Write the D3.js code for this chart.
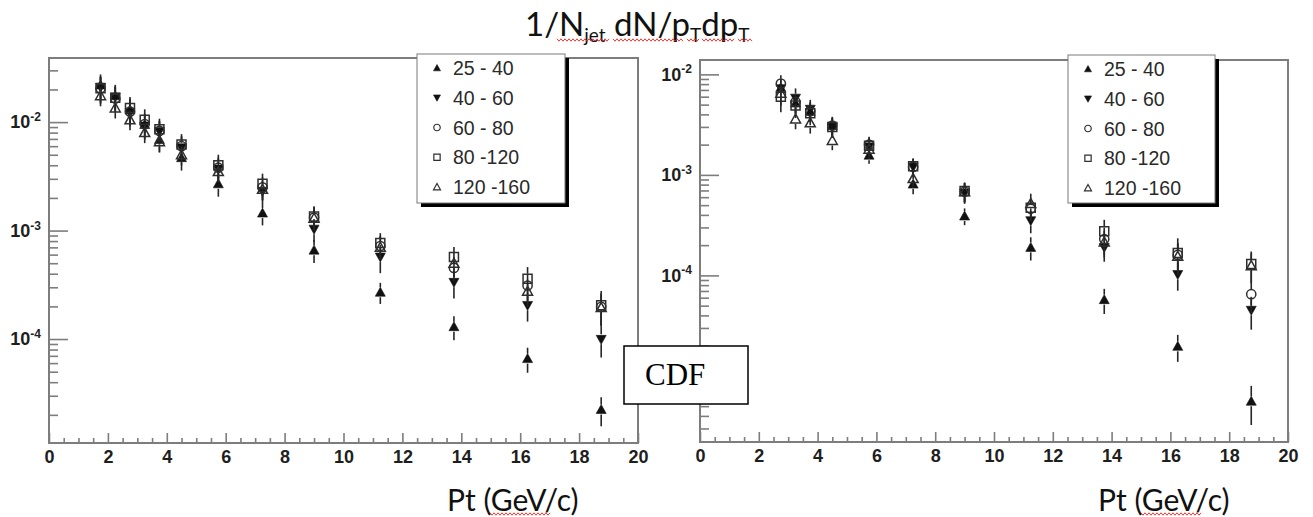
<!DOCTYPE html>
<html>
<head>
<meta charset="utf-8">
<script src="https://cdn.jsdelivr.net/npm/d3@7"></script>
<style>
  body { margin: 0; background: #fff; }
  svg { display: block; }
  .ticklab { font-family: 'Liberation Sans', Arial, sans-serif; font-weight: bold; font-size: 18px; fill: #1e1e1e; }
</style>
</head>
<body>
<svg id="chart" width="1313" height="517"></svg>
<script>
// ---- data: jet-pt bins, measured pT points and relative errors ----
const jetBins = ["25 - 40", "40 - 60", "60 - 80", "80 -120", "120 -160"];
const markerKinds = ["triUp", "triDown", "circle", "square", "triOpen"];

const xTicks = [0, 2, 4, 6, 8, 10, 12, 14, 16, 18, 20];

// left panel
const ptLeft = [1.75, 2.25, 2.75, 3.25, 3.75, 4.5, 5.75, 7.25, 9, 11.25, 13.75, 16.25, 18.75];
const left_25_40  = [0.022, 0.0175, 0.013, 0.0095, 0.0069, 0.0047, 0.0027, 0.00145, 0.00066, 0.00027, 0.00013, 0.000066, 0.0000224];
const left_40_60  = [0.021, 0.017, 0.0122, 0.0092, 0.0082, 0.0058, 0.0037, 0.0023, 0.00103, 0.00057, 0.000333, 0.000204, 0.0000993];
const left_60_80  = [0.0205, 0.0165, 0.0125, 0.0096, 0.0083, 0.006, 0.0038, 0.0025, 0.00132, 0.00072, 0.000452, 0.000311, 0.000198];
const left_80_120 = [0.0205, 0.0168, 0.0135, 0.0105, 0.0086, 0.0062, 0.004, 0.0027, 0.00135, 0.00077, 0.00057, 0.00036, 0.000205];
const left_120_160 = [0.0175, 0.0135, 0.0105, 0.008, 0.0066, 0.005, 0.0035, 0.0024, 0.0013, 0.0007, 0.0005, 0.000276, 0.000195];
const leftErr_25_40  = [0.25, 0.26, 0.26, 0.25, 0.24, 0.24, 0.24, 0.23, 0.24, 0.22, 0.25, 0.26, 0.30];
const leftErr_40_60  = [0.25, 0.25, 0.25, 0.25, 0.24, 0.24, 0.23, 0.23, 0.24, 0.29, 0.29, 0.29, 0.32];
const leftErr_60_80  = [0.26, 0.26, 0.25, 0.25, 0.24, 0.24, 0.24, 0.24, 0.24, 0.24, 0.25, 0.28, 0.33];
const leftErr_80_120 = [0.28, 0.27, 0.26, 0.25, 0.25, 0.25, 0.25, 0.24, 0.24, 0.23, 0.24, 0.28, 0.35];
const leftErr_120_160 = [0.20, 0.20, 0.20, 0.20, 0.20, 0.20, 0.20, 0.21, 0.22, 0.24, 0.25, 0.28, 0.33];
const yDomainLeft = [1.1e-5, 0.039];
const yLabelsLeft = [-2, -3, -4];

// right panel
const ptRight = [2.75, 3.25, 3.75, 4.5, 5.75, 7.25, 9, 11.25, 13.75, 16.25, 18.75];
const right_25_40  = [0.0074, 0.0052, 0.0043, 0.0031, 0.00157, 0.00081, 0.00039, 0.00019, 0.0000574, 0.0000197, 0.0000056];
const right_40_60  = [0.0072, 0.0058, 0.0045, 0.003, 0.0019, 0.0012, 0.00066, 0.00035, 0.00019, 0.000102, 0.000045];
const right_60_80  = [0.0081, 0.0053, 0.0043, 0.0031, 0.002, 0.0012, 0.00068, 0.00046, 0.00023, 0.00016, 0.000065];
const right_80_120 = [0.006, 0.0049, 0.0041, 0.003, 0.00195, 0.00122, 0.00069, 0.00047, 0.000275, 0.000167, 0.00013];
const right_120_160 = [0.0065, 0.0036, 0.0033, 0.0022, 0.0018, 0.00092, 0.00068, 0.00052, 0.000215, 0.000155, 0.000125];
const rightErr_25_40  = [0.22, 0.22, 0.22, 0.20, 0.18, 0.21, 0.19, 0.26, 0.28, 0.30, 0.42];
const rightErr_40_60  = [0.25, 0.25, 0.24, 0.22, 0.20, 0.20, 0.22, 0.25, 0.28, 0.31, 0.36];
const rightErr_60_80  = [0.21, 0.22, 0.22, 0.22, 0.20, 0.20, 0.22, 0.25, 0.30, 0.30, 0.35];
const rightErr_80_120 = [0.30, 0.25, 0.24, 0.22, 0.20, 0.20, 0.22, 0.24, 0.30, 0.40, 0.33];
const rightErr_120_160 = [0.25, 0.21, 0.22, 0.20, 0.20, 0.20, 0.22, 0.25, 0.30, 0.35, 0.33];
const yDomainRight = [2.2e-6, 0.0139];
const yLabelsRight = [-2, -3, -4];   // the 10^-5 decade sits under the experiment tag

// ---- layout ----
const svg = d3.select("#chart");
const frameColor = "#7d7d7d";
const inkColor = "#262626";

const panels = [
  {
    left: 49, right: 638, top: 58, bottom: 443,
    yDomain: yDomainLeft, yLabels: yLabelsLeft, pt: ptLeft,
    values: [left_25_40, left_40_60, left_60_80, left_80_120, left_120_160],
    errors: [leftErr_25_40, leftErr_40_60, leftErr_60_80, leftErr_80_120, leftErr_120_160],
    legend: { x: 417, y: 54, w: 148, h: 149 },
    axisLabelX: 447
  },
  {
    left: 700, right: 1288, top: 60, bottom: 442,
    yDomain: yDomainRight, yLabels: yLabelsRight, pt: ptRight,
    values: [right_25_40, right_40_60, right_60_80, right_80_120, right_120_160],
    errors: [rightErr_25_40, rightErr_40_60, rightErr_60_80, rightErr_80_120, rightErr_120_160],
    legend: { x: 1068, y: 55, w: 147, h: 148 },
    axisLabelX: 1098
  }
];

// marker outlines in local coordinates, s = full marker size
function markerPath(kind, s) {
  const h = s / 2;
  switch (kind) {
    case "triUp":
    case "triOpen":
      return `M0,${-h}L${h},${h * 0.8}L${-h},${h * 0.8}Z`;
    case "triDown":
      return `M0,${h}L${h},${-h * 0.8}L${-h},${-h * 0.8}Z`;
    case "square":
      return `M${-h * 0.9},${-h * 0.9}H${h * 0.9}V${h * 0.9}H${-h * 0.9}Z`;
    case "circle":
      return d3.symbol(d3.symbolCircle, Math.PI * h * h * 0.85)();
  }
}
const filled = k => k === "triUp" || k === "triDown";

function drawMarker(g, kind, s, sw) {
  g.append("path")
    .attr("d", markerPath(kind, s))
    .attr("fill", filled(kind) ? "#111" : "none")
    .attr("stroke", filled(kind) ? "#111" : "#2e2e2e")
    .attr("stroke-width", filled(kind) ? 0.6 : sw);
}

function superscriptLabel(sel, exp) {
  sel.text(null);
  sel.append("tspan").text("10");
  sel.append("tspan").attr("dy", "-0.6em").style("font-size", "12px").text(exp);
}

panels.forEach(p => {
  const x = d3.scaleLinear().domain([0, 20]).range([p.left, p.right]);
  const y = d3.scaleLog().domain(p.yDomain).range([p.bottom, p.top]);
  const g = svg.append("g");

  // x axis: major ticks every 2, minor every 0.5, drawn inward
  const xMinor = d3.range(0, 20.01, 0.5).filter(v => v % 2 !== 0);
  g.append("g").attr("transform", `translate(0,${p.bottom})`)
    .call(d3.axisBottom(x).tickValues(xMinor).tickSize(-5).tickFormat(""))
    .call(a => a.select(".domain").remove());
  g.append("g").attr("transform", `translate(0,${p.bottom})`)
    .call(d3.axisBottom(x).tickValues(xTicks).tickSize(-10).tickPadding(7).tickFormat(d3.format("d")))
    .call(a => a.select(".domain").remove())
    .call(a => a.selectAll("text").attr("class", "ticklab"));

  // y axis: decades labelled as powers of ten, minor ticks 2..9
  const lo = Math.floor(Math.log10(p.yDomain[0])), hi = Math.ceil(Math.log10(p.yDomain[1]));
  const decades = d3.range(lo, hi + 1).map(k => Math.pow(10, k))
    .filter(v => v >= p.yDomain[0] && v <= p.yDomain[1]);
  const minors = [];
  d3.range(lo, hi + 1).forEach(k => {
    for (let m = 2; m <= 9; m++) {
      const v = m * Math.pow(10, k);
      if (v >= p.yDomain[0] && v <= p.yDomain[1]) minors.push(v);
    }
  });
  g.append("g").attr("transform", `translate(${p.left},0)`)
    .call(d3.axisLeft(y).tickValues(minors).tickSize(-9).tickFormat(""))
    .call(a => a.select(".domain").remove());
  g.append("g").attr("transform", `translate(${p.left},0)`)
    .call(d3.axisLeft(y).tickValues(decades).tickSize(-19).tickPadding(8).tickFormat(""))
    .call(a => a.select(".domain").remove())
    .call(a => a.selectAll("text").attr("class", "ticklab")
      .each(function (d) {
        const e = Math.round(Math.log10(d));
        if (p.yLabels.includes(e)) superscriptLabel(d3.select(this), String(e));
        else d3.select(this).remove();
      }));

  g.selectAll(".tick line").attr("stroke", frameColor).attr("stroke-width", 1.6);

  // frame
  g.append("rect")
    .attr("x", p.left).attr("y", p.top)
    .attr("width", p.right - p.left).attr("height", p.bottom - p.top)
    .attr("fill", "none").attr("stroke", frameColor).attr("stroke-width", 2);

  // data: error bars leave a gap where the marker sits
  const msize = 10;
  p.values.forEach((vals, si) => {
    const kind = markerKinds[si];
    const errs = p.errors[si];
    const sg = g.append("g");
    vals.forEach((v, i) => {
      const cx = x(p.pt[i]), cy = y(v);
      const yHi = y(v * (1 + errs[i])), yLo = y(v * (1 - errs[i]));
      const gap = msize / 2;
      sg.append("line").attr("x1", cx).attr("x2", cx).attr("y1", yHi).attr("y2", Math.max(yHi, cy - gap))
        .attr("stroke", inkColor).attr("stroke-width", 1.6);
      sg.append("line").attr("x1", cx).attr("x2", cx).attr("y1", Math.min(yLo, cy + gap)).attr("y2", yLo)
        .attr("stroke", inkColor).attr("stroke-width", 1.6);
    });
    vals.forEach((v, i) => {
      const mg = sg.append("g").attr("transform", `translate(${x(p.pt[i])},${y(v)})`);
      drawMarker(mg, kind, msize, 1.5);
    });
  });

  // legend with drop shadow
  const L = p.legend;
  const lg = svg.append("g");
  lg.append("rect").attr("x", L.x + 4).attr("y", L.y + 4).attr("width", L.w).attr("height", L.h).attr("fill", "#000");
  lg.append("rect").attr("x", L.x).attr("y", L.y).attr("width", L.w).attr("height", L.h)
    .attr("fill", "#fff").attr("stroke", "#7a7a7a").attr("stroke-width", 1);
  const rowY = d3.scalePoint().domain(jetBins).range([L.y + 14, L.y + 133]);
  jetBins.forEach((lab, i) => {
    const row = lg.append("g").attr("transform", `translate(${L.x + 20},${rowY(lab)})`);
    drawMarker(row, markerKinds[i], 7, 1.2);
    row.append("text").attr("x", 16).attr("y", 7)
      .style("font-family", "'Liberation Sans', Arial, sans-serif")
      .style("font-size", "19.5px").style("fill", "#2a2a2a").text(lab);
  });

  // axis title
  svg.append("text").attr("x", p.axisLabelX).attr("y", 511)
    .style("font-family", "Lato, 'Open Sans', sans-serif").style("font-size", "30px").style("fill", "#111")
    .text("Pt (GeV/c)");
});

// wavy proofing underline
function squiggle(x0, x1, yb) {
  const pts = [];
  for (let xx = x0, k = 0; xx <= x1; xx += 2, k++) pts.push([xx, yb + (k % 2 ? 1.2 : -1.2)]);
  svg.append("path").attr("d", d3.line()(pts)).attr("fill", "none")
    .attr("stroke", "#e4241c").attr("stroke-width", 0.9);
}

// overall title
const title = svg.append("text").attr("x", 525).attr("y", 36)
  .style("font-family", "Lato, 'Open Sans', sans-serif").style("font-size", "33px").style("fill", "#111");
title.append("tspan").text("1/N");
title.append("tspan").style("font-size", "19px").attr("dy", 6).text("jet");
title.append("tspan").attr("dy", -6).text(" dN/p");
title.append("tspan").style("font-size", "19px").attr("dy", 6).text("T");
title.append("tspan").attr("dy", -6).text("dp");
title.append("tspan").style("font-size", "19px").attr("dy", 6).text("T");

[[557, 610], [613, 683], [687, 700], [702, 735], [738, 752]].forEach(s => squiggle(s[0], s[1], 40));
squiggle(490, 550, 514);
squiggle(1141, 1201, 514);

// experiment tag
const tag = svg.append("g");
tag.append("rect").attr("x", 624).attr("y", 346).attr("width", 124).attr("height", 58)
  .attr("fill", "#fff").attr("stroke", "#000").attr("stroke-width", 1.5);
tag.append("text").attr("x", 645).attr("y", 385)
  .style("font-family", "'Liberation Serif', 'Times New Roman', serif").style("font-size", "31px").style("fill", "#000")
  .text("CDF");
</script>
</body>
</html>
